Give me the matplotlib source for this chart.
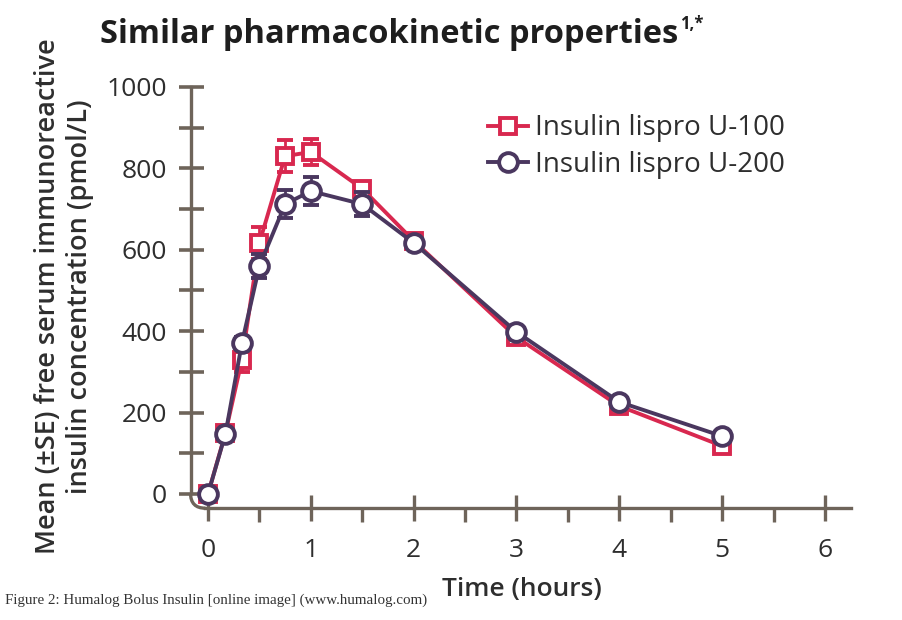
import matplotlib
matplotlib.use("Agg")
import matplotlib.pyplot as plt
from matplotlib.patches import PathPatch
from matplotlib.path import Path
from matplotlib.lines import Line2D
from matplotlib.ticker import MultipleLocator

# hours after dosing
time_h = [0, 0.17, 0.33, 0.5, 0.75, 1.0, 1.5, 2, 3, 4, 5]

# mean free serum insulin (pmol/L) and SE
u100 = [0, 150, 330, 617, 830, 840, 750, 622, 385, 216, 118]
u100_se = [0, 0, 30, 40, 40, 33, 15, 0, 0, 0, 0]
u200 = [0, 148, 371, 560, 712, 744, 712, 617, 398, 226, 142]
u200_se = [0, 0, 15, 30, 35, 35, 30, 0, 0, 0, 0]

labels = ["Insulin lispro U-100", "Insulin lispro U-200"]

red = "#d8284f"
purple = "#4a375f"
axis_col = "#6e645a"
text_col = "#2e2e2e"

plt.rcParams["font.family"] = ["Open Sans", "DejaVu Sans"]

fig = plt.figure(figsize=(9.02, 6.20), dpi=100)
ax = fig.add_axes([0.2078, 0.177, 0.741, 0.6894])
ax.set_xlim(-0.2, 6.3)
ax.set_ylim(-40, 1010)

ax.errorbar(time_h, u100, yerr=u100_se, errorevery=[e > 0 for e in u100_se],
            color=red, lw=2.8, marker="s", ms=12,
            mfc="white", mec=red, mew=2.8, capsize=6, elinewidth=2, capthick=2,
            clip_on=False, zorder=3)
ax.errorbar(time_h, u200, yerr=u200_se, errorevery=[e > 0 for e in u200_se],
            color=purple, lw=2.8, marker="o", ms=13.5,
            mfc="white", mec=purple, mew=2.8, capsize=6, elinewidth=2, capthick=2,
            clip_on=False, zorder=4)

# spines
for s in ["top", "right"]:
    ax.spines[s].set_visible(False)
ax.spines["left"].set_position(("data", -0.17))
ax.spines["bottom"].set_position(("data", -35))
ax.spines["left"].set_bounds(2, 1000)
ax.spines["bottom"].set_bounds(-0.025, 6.25)
for s in ["left", "bottom"]:
    ax.spines[s].set_color(axis_col)
    ax.spines[s].set_linewidth(2.4)

# rounded corner
corner = Path([(-0.17, 2), (-0.17, -35), (-0.025, -35)],
              [Path.MOVETO, Path.CURVE3, Path.CURVE3])
ax.add_patch(PathPatch(corner, fill=False, ec=axis_col, lw=2.4, clip_on=False))

ax.yaxis.set_major_locator(MultipleLocator(200))
ax.yaxis.set_minor_locator(MultipleLocator(100))
ax.xaxis.set_major_locator(MultipleLocator(1))
ax.xaxis.set_minor_locator(MultipleLocator(0.5))
ax.set_xticks(range(0, 7))
ax.set_yticks(range(0, 1001, 200))

ax.tick_params(axis="y", which="both", direction="inout", length=18, width=2.6,
               color=axis_col, labelsize=19, labelcolor=text_col, pad=8)
ax.tick_params(axis="x", which="major", direction="inout", length=19, width=2.4,
               color=axis_col, labelsize=19, labelcolor=text_col, pad=12)
ax.tick_params(axis="x", which="minor", direction="out", length=10, width=2.4,
               color=axis_col)

ax.set_xlabel("Time (hours)", fontsize=19, color=text_col, fontweight="semibold",
              labelpad=10)
ax.set_ylabel("Mean (±SE) free serum immunoreactive\ninsulin concentration (pmol/L)",
              fontsize=19.5, color=text_col, fontweight="semibold", labelpad=9,
              linespacing=1.2)

handles = [
    Line2D([0], [0], color=red, lw=2.8, marker="s", ms=12, mfc="white", mec=red, mew=2.8),
    Line2D([0], [0], color=purple, lw=2.8, marker="o", ms=13.5, mfc="white", mec=purple, mew=2.8),
]
leg = ax.legend(handles, labels, loc="upper left", bbox_to_anchor=(0.412, 0.985),
                frameon=False, fontsize=20, handlelength=1.45, labelspacing=0.3,
                handletextpad=0.25)
for t in leg.get_texts():
    t.set_color(text_col)

title = fig.text(0.111, 0.945, "Similar pharmacokinetic properties", fontsize=23.5,
                 fontweight="bold", color="#1e1e1e", va="center")
fig.canvas.draw()
bb = title.get_window_extent()
fig.text(bb.x1 / fig.bbox.width + 0.002, 0.962, "1,*", fontsize=12,
         fontweight="bold", color="#1e1e1e", va="center")

fig.text(0.006, 0.032, "Figure 2: Humalog Bolus Insulin [online image] (www.humalog.com)",
         fontsize=10.8, family="Liberation Serif", color="#333333", va="center")

fig.savefig("out.png", dpi=100)
